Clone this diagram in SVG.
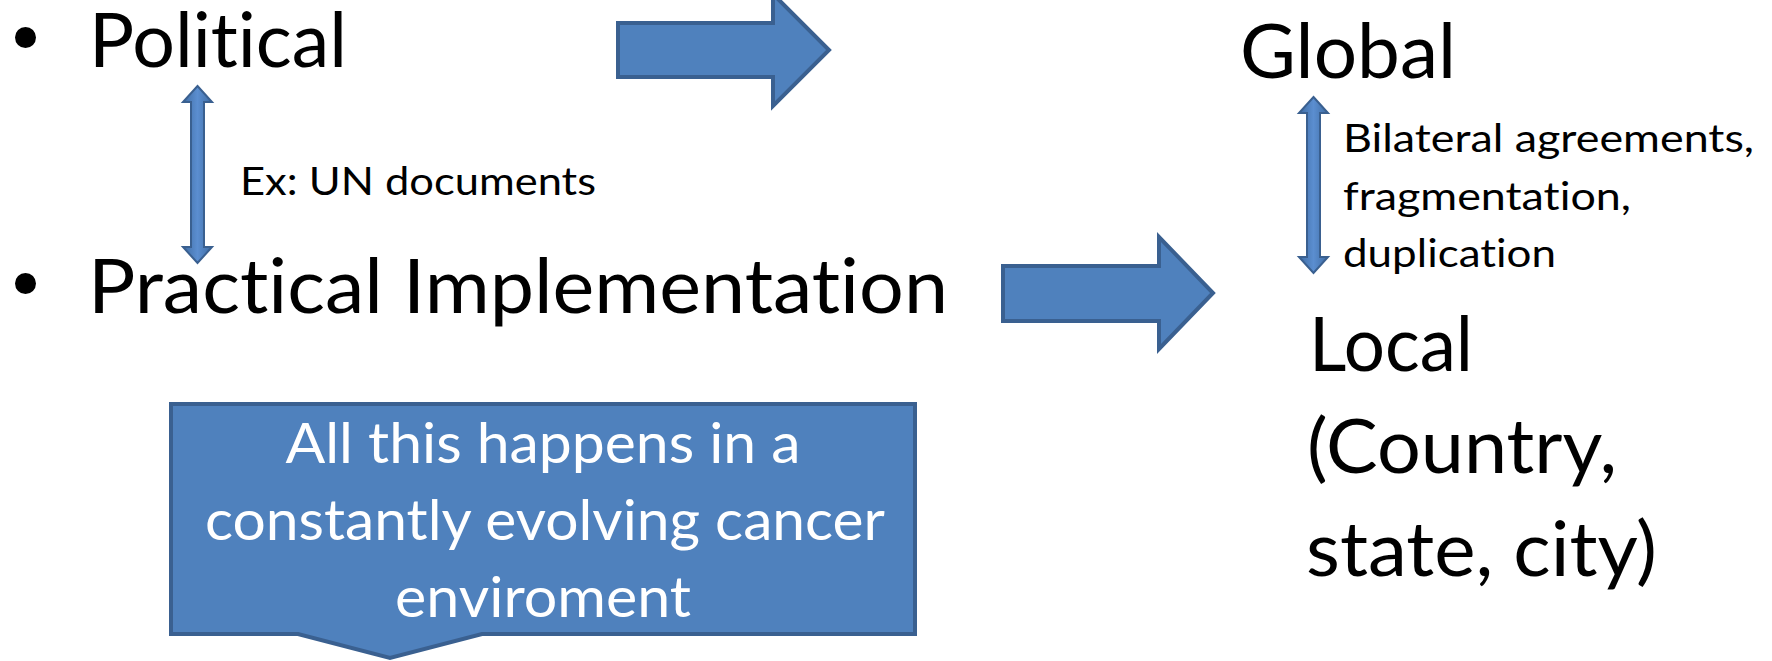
<svg xmlns="http://www.w3.org/2000/svg" width="1772" height="661" viewBox="0 0 1772 661">
<style>
.t{font-family:Lato,"Open Sans","Liberation Sans",sans-serif;fill:#000;font-variant-ligatures:none;font-feature-settings:"liga" 0,"clig" 0}
.big{font-size:76px}
.small{font-size:38px}
.call{font-size:56px;fill:#fff;text-anchor:middle}
.blk{fill:#4F81BD;stroke:#3A6090;stroke-width:4;stroke-linejoin:miter}
.dbl{fill:url(#shaft);stroke:#3A6090;stroke-width:2}
</style>
<defs>
<linearGradient id="shaft" x1="0" y1="0" x2="1" y2="0">
<stop offset="0" stop-color="#3F6CA3"/>
<stop offset="0.5" stop-color="#5B8ED0"/>
<stop offset="1" stop-color="#3F6CA3"/>
</linearGradient>
</defs>
<rect width="1772" height="661" fill="#fff"/>
<g id="connectors">
<path id="arrow-top" class="blk" d="M618,23 H773 V-6 L829,50 L773,106 V77 H618 Z"/>
<path id="arrow-bottom" class="blk" d="M1003,266 H1159 V237 L1213,293 L1159,349 V321 H1003 Z"/>
<path id="dbl-left" class="dbl" d="M197.5,86 L212,102 H204 V247 H212 L197.5,263 L183,247 H191 V102 H183 Z"/>
<path id="dbl-right" class="dbl" d="M1313.5,97 L1328,113 H1320 V257 H1328 L1313.5,273 L1299,257 H1307 V113 H1299 Z"/>
</g>
<g id="political">
<circle cx="25.5" cy="37.5" r="10.5" fill="#000"/>
<text class="t big" x="89" y="67" textLength="258" lengthAdjust="spacingAndGlyphs">Political</text>
</g>
<g id="practical">
<circle cx="25.5" cy="283.5" r="10.5" fill="#000"/>
<text class="t big" x="88" y="313" textLength="860" lengthAdjust="spacingAndGlyphs">Practical Implementation</text>
</g>
<g id="ex-label">
<text class="t small" x="240" y="195" textLength="356" lengthAdjust="spacingAndGlyphs">Ex: UN documents</text>
</g>
<g id="global">
<text class="t big" x="1240" y="78" textLength="216" lengthAdjust="spacingAndGlyphs">Global</text>
</g>
<g id="bilateral-label">
<text class="t small" x="1343" y="152" textLength="411" lengthAdjust="spacingAndGlyphs">Bilateral agreements,</text>
<text class="t small" x="1343" y="210" textLength="288" lengthAdjust="spacingAndGlyphs">fragmentation,</text>
<text class="t small" x="1343" y="267" textLength="213" lengthAdjust="spacingAndGlyphs">duplication</text>
</g>
<g id="local">
<text class="t big" x="1309" y="371" textLength="164" lengthAdjust="spacingAndGlyphs">Local</text>
<text class="t big" x="1307" y="473" textLength="310" lengthAdjust="spacingAndGlyphs">(Country,</text>
<text class="t big" x="1306" y="576" textLength="351" lengthAdjust="spacingAndGlyphs">state, city)</text>
</g>
<g id="callout">
<path class="blk" d="M171,404 H915 V634 H482 L390,658 L298,634 H171 Z"/>
<text class="t call" x="543" y="463" textLength="515" lengthAdjust="spacingAndGlyphs">All this happens in a</text>
<text class="t call" x="545" y="540" textLength="680" lengthAdjust="spacingAndGlyphs">constantly evolving cancer</text>
<text class="t call" x="543" y="617" textLength="296" lengthAdjust="spacingAndGlyphs">enviroment</text>
</g>
</svg>
